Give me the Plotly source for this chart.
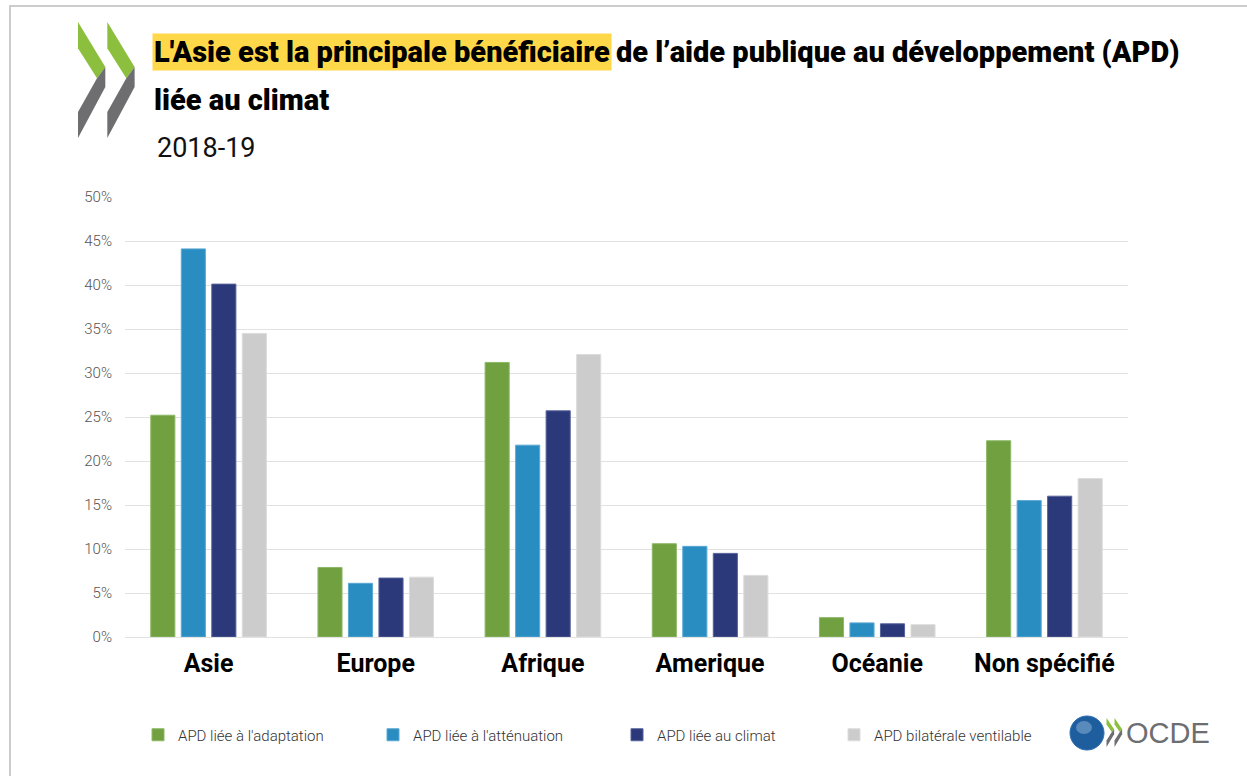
import plotly.graph_objects as go

categories = ["Asie", "Europe", "Afrique", "Amerique", "Océanie", "Non spécifié"]
series_names = ["APD liée à l'adaptation", "APD liée à l'atténuation",
                "APD liée au climat", "APD bilatérale ventilable"]
adaptation = [25.2, 7.9, 31.2, 10.6, 2.2, 22.3]
attenuation = [44.1, 6.1, 21.8, 10.3, 1.6, 15.5]
climat = [40.1, 6.7, 25.7, 9.5, 1.5, 16.0]
bilaterale = [34.5, 6.8, 32.1, 7.0, 1.4, 18.0]
y_ticks = [0, 5, 10, 15, 20, 25, 30, 35, 40, 45, 50]

fills = ["#70A040", "#2A8DC1", "#2B3879", "#CCCCCC"]
lines = ["#8DB866", "#5AA8D2", "#56629A", "#DCDCDC"]
legend_ids = ["legend", "legend2", "legend3", "legend4"]
legend_px = [138, 373, 617, 834]

W, H = 1247, 776
L, R, T, B = 125, 119, 197, 139
PW, PH = W - L - R, H - T - B


def px(x):
    return (x - L) / PW


def py(y):
    return (H - B - y) / PH


SANS = "Roboto, 'DejaVu Sans', sans-serif"

fig = go.Figure()
for name, vals, fc, lc, lg in zip(series_names, [adaptation, attenuation, climat, bilaterale],
                                  fills, lines, legend_ids):
    fig.add_trace(go.Bar(x=categories, y=vals, name=name, legend=lg,
                         marker=dict(color=fc, line=dict(color=lc, width=1))))

legend_layout = {}
for lg, lx in zip(legend_ids, legend_px):
    legend_layout[lg] = dict(orientation="h", xref="container", yref="container",
                             x=lx / W, y=1 - 735 / H, xanchor="left", yanchor="middle",
                             bgcolor="rgba(0,0,0,0)",
                             font=dict(family=SANS, size=15, color="#333333", weight=300),
                             itemwidth=30)

fig.update_layout(
    width=W, height=H,
    margin=dict(l=L, r=R, t=T, b=B, pad=0),
    paper_bgcolor="white", plot_bgcolor="white",
    barmode="group", bargap=0.27, bargroupgap=0.21,
    showlegend=True,
    xaxis=dict(showgrid=False, showline=False, zeroline=False, ticks="",
               tickfont=dict(family=SANS, size=25, color="#000000", weight="bold"),
               ticklabelstandoff=9),
    yaxis=dict(range=[0, 50], tickvals=y_ticks, ticktext=[f"{v}%" for v in y_ticks],
               showgrid=True, gridcolor="#E2E2E2", gridwidth=1.3,
               zeroline=True, zerolinecolor="#E2E2E2", zerolinewidth=1.3,
               showline=False, ticks="",
               tickfont=dict(family=SANS, size=15, color="#555555", weight=300),
               ticklabelstandoff=12),
    **legend_layout,
)

shapes = []
# outer frame
shapes.append(dict(type="rect", xref="paper", yref="paper",
                   x0=px(10), x1=px(1262), y0=py(6), y1=py(800),
                   line=dict(color="#CCCCCC", width=2), fillcolor="rgba(0,0,0,0)", layer="below"))


def chevron(x0, y0, sx, sy, green, gray):
    g = [(78, 22), (105.3, 67), (97, 78.3), (78, 48.3)]
    r = [(105.3, 67), (105.3, 87), (78, 138), (78, 112), (97, 78.3)]
    out = []
    for pts, col in ((g, green), (r, gray)):
        pp = [(px(x0 + (x - 78) * sx), py(y0 + (y - 22) * sy)) for x, y in pts]
        path = "M " + " L ".join(f"{a},{b}" for a, b in pp) + " Z"
        out.append(dict(type="path", xref="paper", yref="paper", path=path,
                        fillcolor=col, line=dict(width=0)))
    return out


shapes += chevron(78, 22, 1, 1, "#8DBF3E", "#6E6E70")
shapes += chevron(107.3, 22, 1, 1, "#8DBF3E", "#6E6E70")
# small OCDE logo
shapes.append(dict(type="circle", xref="paper", yref="paper",
                   x0=px(1070), x1=px(1104), y0=py(716), y1=py(750),
                   fillcolor="#1F5E9E", line=dict(color="#2B6DB0", width=1)))
shapes.append(dict(type="circle", xref="paper", yref="paper",
                   x0=px(1076), x1=px(1092), y0=py(721), y1=py(734),
                   fillcolor="#7FA9CF", line=dict(width=0), opacity=0.6))
shapes += chevron(1106.5, 718, 0.28, 0.25, "#8DBF3E", "#6E6E70")
shapes += chevron(1114.5, 718, 0.28, 0.25, "#8DBF3E", "#6E6E70")

fig.update_layout(shapes=shapes)

TITLE_FONT = dict(family=SANS, size=29, color="#000000", weight=900)
ann = []
ann.append(dict(xref="paper", yref="paper", x=px(152), y=py(52), xanchor="left", yanchor="middle",
                text="L'Asie est la principale bénéficiaire", showarrow=False,
                bgcolor="#FFD84A", borderpad=1, font=TITLE_FONT))
ann.append(dict(xref="paper", yref="paper", x=px(614), y=py(52), xanchor="left", yanchor="middle",
                text="de l’aide publique au développement (APD)", showarrow=False,
                font=TITLE_FONT))
ann.append(dict(xref="paper", yref="paper", x=px(152), y=py(100), xanchor="left", yanchor="middle",
                text="liée au climat", showarrow=False, font=TITLE_FONT))
ann.append(dict(xref="paper", yref="paper", x=px(155), y=py(148), xanchor="left", yanchor="middle",
                text="2018-19", showarrow=False,
                font=dict(family=SANS, size=27, color="#111111")))
ann.append(dict(xref="paper", yref="paper", x=px(1124), y=py(733), xanchor="left", yanchor="middle",
                text="OCDE", showarrow=False,
                font=dict(family="'Liberation Sans', Arial, sans-serif", size=29, color="#6D6E71")))
fig.update_layout(annotations=ann)

fig.write_html("out.html", config={"displayModeBar": False},
               post_script="document.body.style.margin='0px';")
